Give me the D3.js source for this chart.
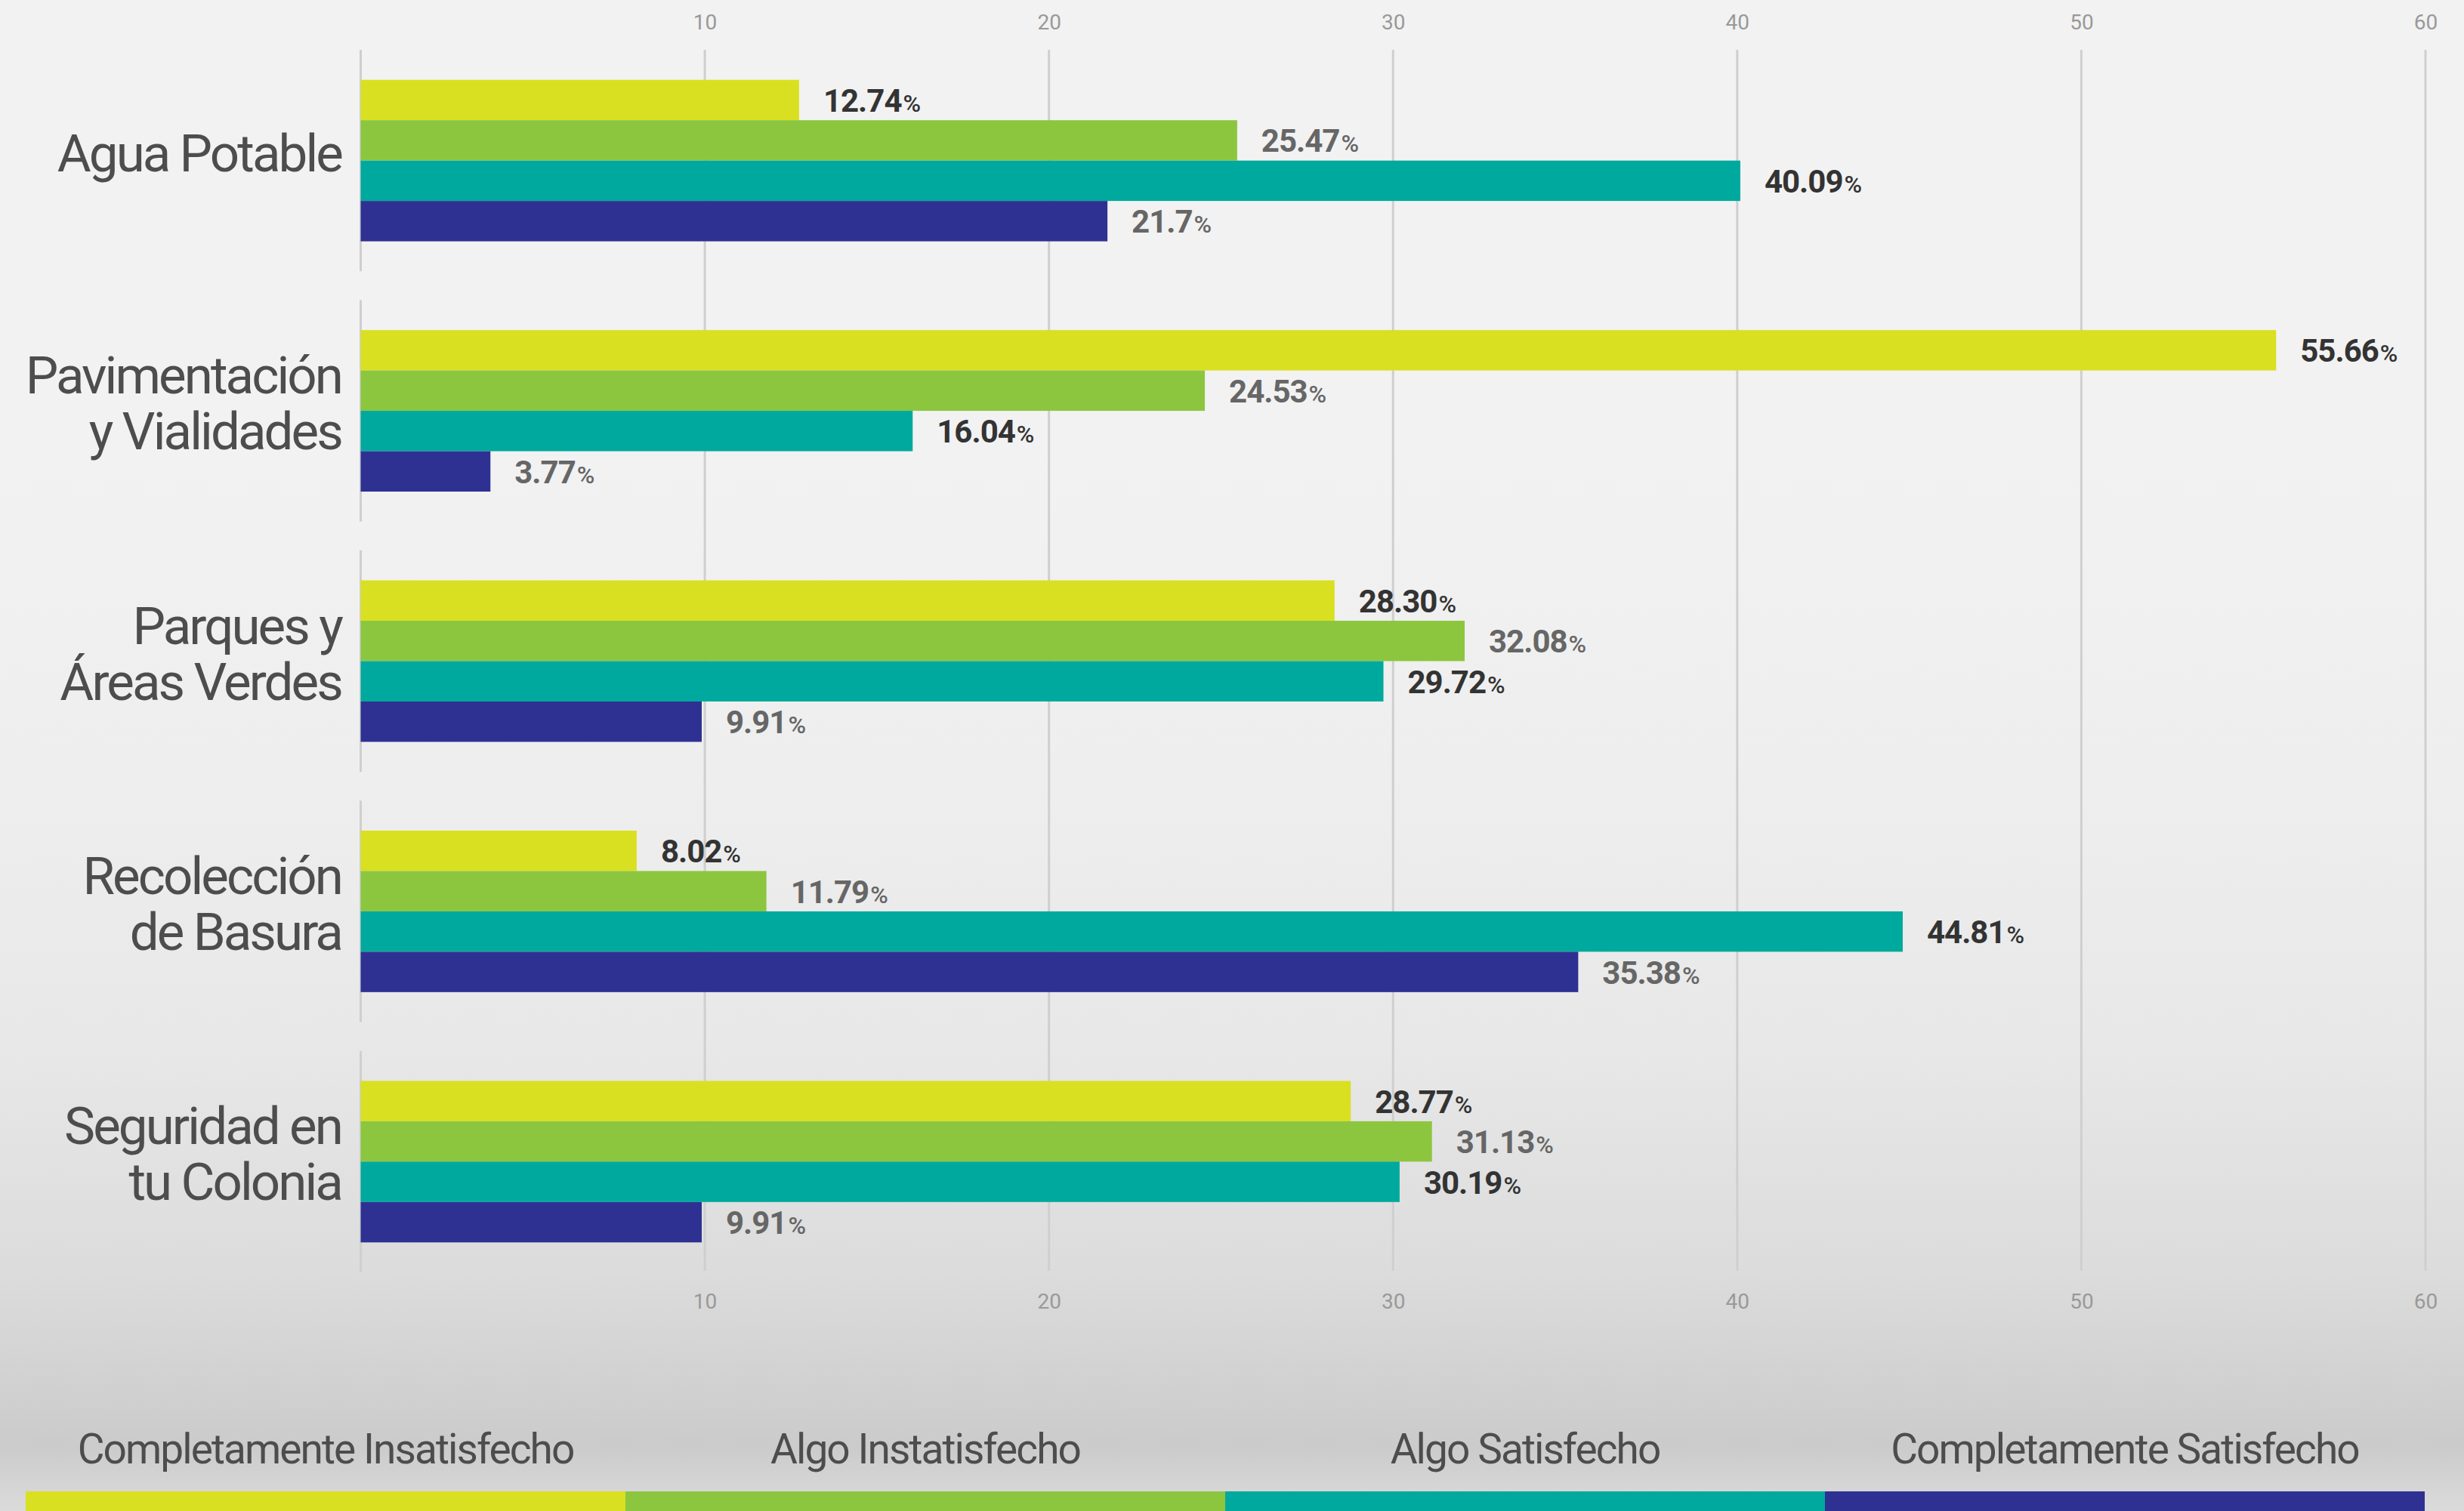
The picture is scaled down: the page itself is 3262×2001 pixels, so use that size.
<!DOCTYPE html>
<html>
<head>
<meta charset="utf-8">
<script src="https://cdn.jsdelivr.net/npm/d3@7"></script>
<style>
  html, body { margin: 0; padding: 0; background: #f2f2f2; }
  svg { display: block; }
  text { font-family: Roboto, "Noto Sans", "Liberation Sans", sans-serif; }
</style>
</head>
<body>
<svg id="chart" width="3262" height="2001"></svg>
<script>
// ---- data ----
const categories = ["Agua Potable", "Pavimentación\ny Vialidades", "Parques y\nÁreas Verdes", "Recolección\nde Basura", "Seguridad en\ntu Colonia"];
const series = ["Completamente Insatisfecho", "Algo Instatisfecho", "Algo Satisfecho", "Completamente Satisfecho"];
const completamenteInsatisfecho = ["12.74", "55.66", "28.30", "8.02", "28.77"];
const algoInsatisfecho = ["25.47", "24.53", "32.08", "11.79", "31.13"];
const algoSatisfecho = ["40.09", "16.04", "29.72", "44.81", "30.19"];
const completamenteSatisfecho = ["21.7", "3.77", "9.91", "35.38", "9.91"];
const tickValues = [10, 20, 30, 40, 50, 60];

const seriesValues = [completamenteInsatisfecho, algoInsatisfecho, algoSatisfecho, completamenteSatisfecho];
const colors = ["#d9e021", "#8cc63f", "#00a99d", "#2e3192"];
const labelColors = ["#333333", "#666666", "#333333", "#666666"];

const rows = [];
categories.forEach((c, i) => {
  series.forEach((s, j) => {
    rows.push({ cat: c, ser: s, si: j, label: seriesValues[j][i], value: +seriesValues[j][i] });
  });
});

// ---- layout ----
const W = 3262, H = 2001;
const svg = d3.select("#chart");

const defs = svg.append("defs");
const grad = defs.append("linearGradient").attr("id", "bg").attr("x1", 0).attr("y1", 0).attr("x2", 0).attr("y2", 1);
[[0, "#f2f2f2"], [0.3, "#f2f2f2"], [0.52, "#eeeeee"], [0.69, "#e8e8e8"], [0.84, "#dcdcdc"], [0.957, "#cbcbcb"], [1, "#dbdbdb"]]
  .forEach(([o, c]) => grad.append("stop").attr("offset", o).attr("stop-color", c));
svg.append("rect").attr("width", W).attr("height", H).attr("fill", "url(#bg)");

const x = d3.scaleLinear().domain([0, 60]).range([477.5, 3211]);
const y0 = d3.scaleBand().domain(categories).range([66, 1685]).paddingInner(0.115).paddingOuter(0);
const y1 = d3.scaleBand().domain(series).range([0, y0.bandwidth()]).paddingInner(0).paddingOuter(0.743);

// gridlines
svg.append("g").selectAll("line").data(tickValues).join("line")
  .attr("x1", d => x(d)).attr("x2", d => x(d))
  .attr("y1", 66).attr("y2", 1683)
  .attr("stroke", "#cfcfcf").attr("stroke-width", 3);

// zero line per category band
svg.append("g").selectAll("line").data(categories).join("line")
  .attr("x1", x(0)).attr("x2", x(0))
  .attr("y1", d => y0(d)).attr("y2", d => y0(d) + y0.bandwidth())
  .attr("stroke", "#cfcfcf").attr("stroke-width", 3);

// axes
function styleAxis(g) {
  g.select(".domain").remove();
  g.selectAll(".tick line").remove();
  g.selectAll("text").attr("font-size", 28).attr("fill", "#999999").attr("font-family", "Roboto, sans-serif");
}
svg.append("g").attr("transform", "translate(0,39)")
  .call(d3.axisTop(x).tickValues(tickValues).tickSize(0).tickPadding(0))
  .call(styleAxis);
svg.append("g").attr("transform", "translate(0,1713)")
  .call(d3.axisBottom(x).tickValues(tickValues).tickSize(0).tickPadding(0))
  .call(styleAxis);

// bars
svg.append("g").selectAll("rect").data(rows).join("rect")
  .attr("x", x(0))
  .attr("y", d => y0(d.cat) + y1(d.ser))
  .attr("width", d => x(d.value) - x(0))
  .attr("height", y1.bandwidth())
  .attr("fill", d => colors[d.si]);

// value labels
const lbl = svg.append("g").selectAll("text").data(rows).join("text")
  .attr("x", d => x(d.value) + 32)
  .attr("y", d => y0(d.cat) + y1(d.ser) + y1.bandwidth() / 2 + 15.5)
  .attr("font-size", 42)
  .attr("font-weight", 700)
  .attr("letter-spacing", "-1px")
  .attr("fill", d => labelColors[d.si]);
lbl.append("tspan").text(d => d.label);
lbl.append("tspan").attr("font-size", 32).attr("font-weight", 500).attr("dx", 2).text("%");

// category labels
const catG = svg.append("g").selectAll("text").data(categories).join("text")
  .attr("text-anchor", "end")
  .attr("font-size", 69)
  .attr("letter-spacing", "-0.042em")
  .attr("fill", "#4d4d4d");
catG.each(function (d) {
  const lines = d.split("\n");
  const cy = y0(d) + y0.bandwidth() / 2 + 14;
  const t = d3.select(this);
  lines.forEach((ln, i) => {
    t.append("tspan").attr("x", 452).attr("y", cy + (i - (lines.length - 1) / 2) * 74).text(ln);
  });
});

// legend
const lx = d3.scaleBand().domain(series).range([34, 3210]);
const leg = svg.append("g");
leg.selectAll("rect").data(series).join("rect")
  .attr("x", d => lx(d)).attr("y", 1975)
  .attr("width", lx.bandwidth()).attr("height", 30)
  .attr("fill", (d, i) => colors[i]);
leg.selectAll("text").data(series).join("text")
  .attr("x", d => lx(d) + lx.bandwidth() / 2)
  .attr("y", 1938)
  .attr("text-anchor", "middle")
  .attr("font-size", 55)
  .attr("letter-spacing", "-0.035em")
  .attr("fill", "#4d4d4d")
  .text(d => d);
</script>
</body>
</html>
